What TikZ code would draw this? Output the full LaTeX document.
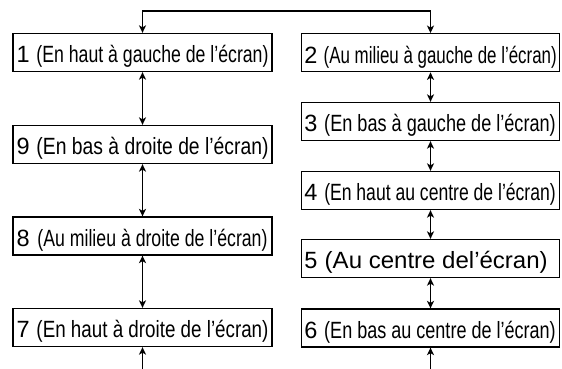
\documentclass[tikz,border=0pt]{standalone}
\usepackage{fontspec}
\usepackage{graphicx}
\setmainfont{Liberation Sans}
\usetikzlibrary{arrows.meta}
\tikzset{
  stepbox/.style={draw, line width=1.3pt, inner sep=0pt, minimum height=38pt,
    text height=20.8pt, text depth=0pt, font=\fontsize{23.5}{25}\selectfont},
  lbox/.style={stepbox, minimum width=259pt},
  rbox/.style={stepbox, minimum width=258pt},
  tip/.tip={Stealth[length=7.5pt,width=7pt,inset=2pt]},
  link/.style={line width=1.8pt, tip-tip},
  onelink/.style={line width=1.8pt, -tip},
}
% digit, total width, width of bracketed text, right gap, bracketed text
\newcommand{\lab}[5]{\hbox to #2pt{#1\hfil\resizebox{#3pt}{\height}{(#5)}\hskip #4pt}}
\begin{document}
\begin{tikzpicture}[x=1pt,y=-1pt]
\useasboundingbox[fill=white] (0,0) rectangle (562,369);
\node[lbox] (n1) at (142.5,52.5) {\lab{1}{252}{232}{0}{En haut à gauche de l’écran}};
\node[lbox] (n9) at (142.5,144.5) {\lab{9}{252}{232}{0}{En bas à droite de l’écran}};
\node[lbox] (n8) at (142.5,236) {\lab{8}{252}{230}{1}{Au milieu à droite de l’écran}};
\node[lbox] (n7) at (142.5,327.5) {\lab{7}{252}{232}{0}{En haut à droite de l’écran}};
\node[rbox] (n2) at (430.5,52.7) {\lab{2}{252.5}{233}{0}{Au milieu à gauche de l'écran}};
\node[rbox] (n3) at (430.5,121.5) {\lab{3}{252.5}{231.5}{1}{En bas à gauche de l’écran}};
\node[rbox] (n4) at (430.5,190.5) {\lab{4}{252.5}{231.5}{1}{En haut au centre de l’écran}};
\node[rbox] (n5) at (430.5,258.5) {\lab{5}{252.5}{223}{9}{Au centre del’écran}};
\node[rbox] (n6) at (430.5,328) {\lab{6}{252.5}{231.5}{1}{En bas au centre de l’écran}};
\coordinate (b7) at (142.5,369);
\coordinate (b6) at (430.5,369);
\draw[link] (n1.north) -- ++(0,-22) -| (n2.north);
\draw[link] (n1) -- (n9);
\draw[link] (n9) -- (n8);
\draw[link] (n8) -- (n7);
\draw[link] (n2) -- (n3);
\draw[link] (n3) -- (n4);
\draw[link] (n4) -- (n5);
\draw[link] (n5) -- (n6);
\draw[onelink] (b7) -- (n7);
\draw[onelink] (b6) -- (n6);
\end{tikzpicture}
\end{document}
